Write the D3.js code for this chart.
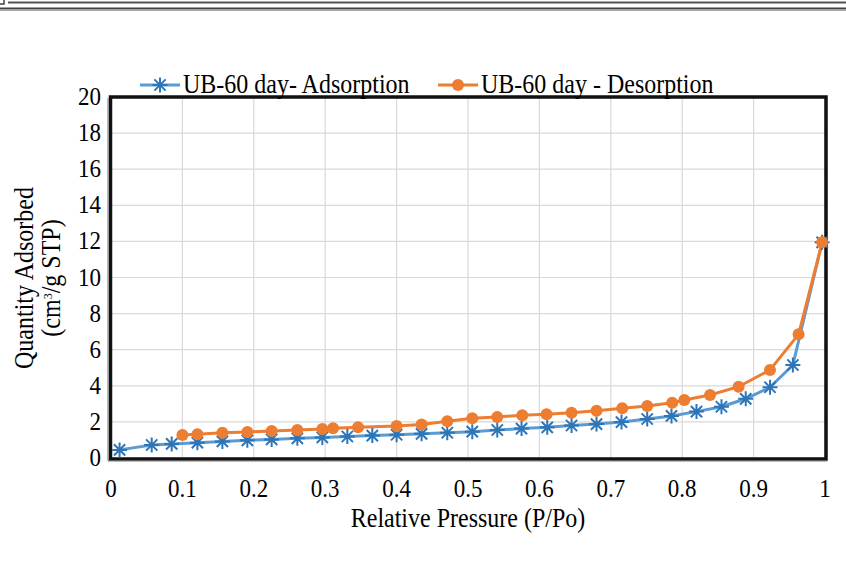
<!DOCTYPE html>
<html><head><meta charset="utf-8">
<script src="https://cdn.jsdelivr.net/npm/d3@7/dist/d3.min.js"></script>
<style>body{margin:0;background:#fff;} svg{display:block;}</style>
</head><body><svg id="c" width="846" height="577"></svg>
<script>
const adsX = [0.012,0.057,0.085,0.121,0.156,0.191,0.225,0.261,0.296,0.331,0.366,0.400,0.435,0.471,0.506,0.541,0.575,0.611,0.645,0.680,0.715,0.751,0.785,0.820,0.855,0.889,0.923,0.955,0.996];
const adsY = [0.45,0.72,0.78,0.85,0.92,0.98,1.03,1.09,1.14,1.19,1.24,1.29,1.34,1.40,1.46,1.55,1.63,1.70,1.80,1.88,1.99,2.16,2.33,2.57,2.84,3.28,3.92,5.15,11.95];
const desX = [0.100,0.121,0.156,0.191,0.225,0.261,0.296,0.311,0.346,0.400,0.435,0.471,0.506,0.541,0.576,0.610,0.645,0.680,0.716,0.751,0.786,0.803,0.839,0.879,0.923,0.963,0.996];
const desY = [1.27,1.31,1.40,1.44,1.50,1.55,1.61,1.65,1.70,1.77,1.85,2.03,2.20,2.27,2.37,2.42,2.51,2.62,2.76,2.88,3.06,3.21,3.49,3.95,4.88,6.85,11.95];
const xTicks = [0,0.1,0.2,0.3,0.4,0.5,0.6,0.7,0.8,0.9,1];
const yTicks = [0,2,4,6,8,10,12,14,16,18,20];
const seriesNames = ["UB-60 day- Adsorption","UB-60 day - Desorption"];

const svg = d3.select("#c");
const L=111, R=825, T=97, B=458;
const x = d3.scaleLinear().domain([0,1]).range([L,R]);
const y = d3.scaleLinear().domain([0,20]).range([B,T]);
const font = "'Liberation Serif','Times New Roman',serif";
const blue="#5B9BD5", blueM="#2E75B6", orange="#ED7D31";
const SY = 1.12;

// top decorative lines
svg.append("rect").attr("x",-2).attr("y",-2).attr("width",6).attr("height",6).attr("fill","none").attr("stroke","#444").attr("stroke-width",1.5);
svg.append("line").attr("x1",8).attr("x2",846).attr("y1",2.5).attr("y2",2.5).attr("stroke","#555").attr("stroke-width",1.8);
svg.append("line").attr("x1",0).attr("x2",846).attr("y1",8.5).attr("y2",8.5).attr("stroke","#444").attr("stroke-width",1.8);
svg.append("line").attr("x1",0).attr("x2",846).attr("y1",10.5).attr("y2",10.5).attr("stroke","#aaa").attr("stroke-width",1);

// grid
const g = svg.append("g");
g.selectAll(".vg").data(xTicks).join("line").attr("x1",d=>x(d)).attr("x2",d=>x(d)).attr("y1",T).attr("y2",B).attr("stroke","#d9d9d9").attr("stroke-width",1.2);
g.selectAll(".hg").data(yTicks).join("line").attr("x1",L).attr("x2",R).attr("y1",d=>y(d)).attr("y2",d=>y(d)).attr("stroke","#d9d9d9").attr("stroke-width",1.2);

// frame
svg.append("rect").attr("x",L-0.5).attr("y",T).attr("width",R-L+1.5).attr("height",B-T+1).attr("fill","none").attr("stroke","#111").attr("stroke-width",3.5);
svg.append("line").attr("x1",L-3).attr("x2",L-3).attr("y1",T+1).attr("y2",B+3).attr("stroke","#777").attr("stroke-width",1);
svg.append("line").attr("x1",L-3).attr("x2",R+2).attr("y1",B+3).attr("y2",B+3).attr("stroke","#777").attr("stroke-width",1);

// ticks labels
svg.selectAll(".xt").data(xTicks).join("text").attr("transform",d=>`translate(${x(d)},497) scale(1,${SY})`).attr("text-anchor","middle")
  .attr("font-family",font).attr("font-size",23).attr("fill","#000").text(d=>d3.format("")(d));
svg.selectAll(".yt").data(yTicks).join("text").attr("transform",d=>`translate(101,${y(d)+8}) scale(1,${SY})`).attr("text-anchor","end")
  .attr("font-family",font).attr("font-size",23).attr("fill","#000").text(d=>d);

// axis titles
svg.append("text").attr("transform",`translate(468,527) scale(1,${SY})`).attr("text-anchor","middle").attr("font-family",font).attr("font-size",24).text("Relative Pressure (P/Po)");
const yt = svg.append("text").attr("transform",`translate(33,278) rotate(-90) scale(1,${SY})`).attr("text-anchor","middle").attr("font-family",font).attr("font-size",24);
yt.append("tspan").text("Quantity Adsorbed");
const yt2 = svg.append("text").attr("transform",`translate(60,278) rotate(-90) scale(1,${SY})`).attr("text-anchor","middle").attr("font-family",font).attr("font-size",24);
yt2.append("tspan").text("(cm");
yt2.append("tspan").attr("font-size",12).attr("dy",-7).text("3");
yt2.append("tspan").attr("dy",7).text("/g STP)");

// lines
const ads = adsX.map((v,i)=>[v,adsY[i]]);
const des = desX.map((v,i)=>[v,desY[i]]);
const line = d3.line().x(d=>x(d[0])).y(d=>y(d[1]));
svg.append("path").datum(ads).attr("d",line).attr("fill","none").attr("stroke",blue).attr("stroke-width",3);
svg.append("path").datum(des).attr("d",line).attr("fill","none").attr("stroke",orange).attr("stroke-width",3);

function star(sel, cx, cy, s){
  const p = `M${cx-s},${cy} L${cx+s},${cy} M${cx},${cy-s} L${cx},${cy+s} M${cx-s*0.75},${cy-s*0.75} L${cx+s*0.75},${cy+s*0.75} M${cx-s*0.75},${cy+s*0.75} L${cx+s*0.75},${cy-s*0.75}`;
  sel.append("path").attr("d",p).attr("stroke",blueM).attr("stroke-width",2).attr("fill","none");
}
ads.forEach(d=>star(svg, x(d[0]), y(d[1]), 7.5));
svg.selectAll(".dc").data(des).join("circle").attr("cx",d=>x(d[0])).attr("cy",d=>y(d[1])).attr("r",6).attr("fill",orange);

// legend
svg.append("line").attr("x1",140).attr("x2",180).attr("y1",85).attr("y2",85).attr("stroke",blue).attr("stroke-width",3);
star(svg,160,85,7.5);
svg.append("text").attr("transform",`translate(183,93) scale(1,${SY})`).attr("font-family",font).attr("font-size",24).text(seriesNames[0]);
svg.append("line").attr("x1",438).attr("x2",478).attr("y1",85).attr("y2",85).attr("stroke",orange).attr("stroke-width",3);
svg.append("circle").attr("cx",458).attr("cy",85).attr("r",6).attr("fill",orange);
svg.append("text").attr("transform",`translate(481,93) scale(1,${SY})`).attr("font-family",font).attr("font-size",24).text(seriesNames[1]);
</script></body></html>
